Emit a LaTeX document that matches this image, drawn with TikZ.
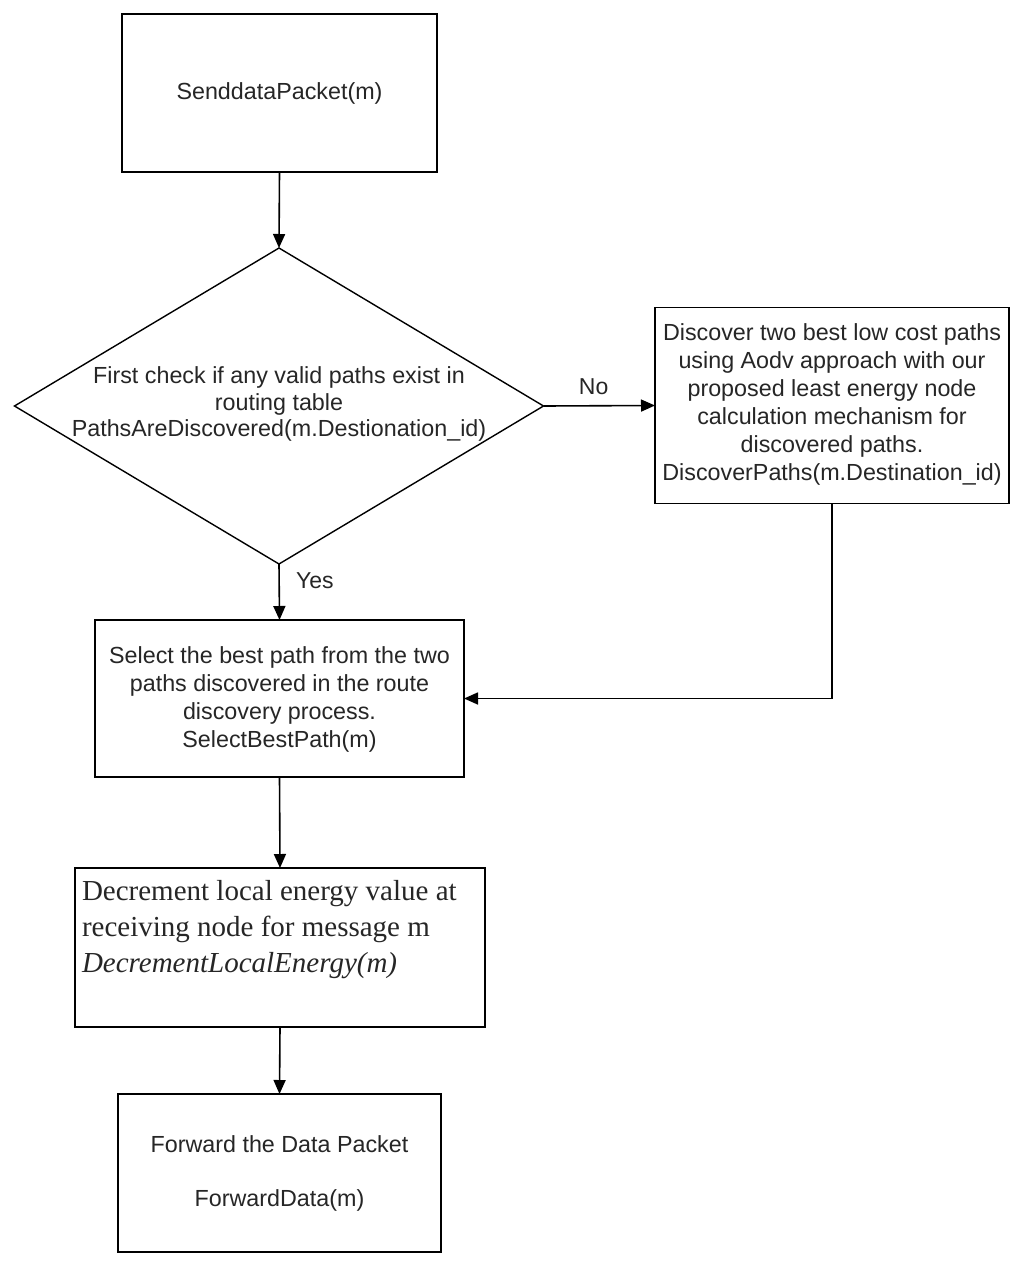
\documentclass[tikz,border=0pt]{standalone}
\usepackage{fontspec}
\setmainfont{Liberation Sans}
\newfontfamily\serifrm{Liberation Serif}
\usetikzlibrary{shapes.geometric,arrows.meta}
\begin{document}
\begin{tikzpicture}[x=1pt,y=-1pt,
  every node/.style={inner sep=0pt,outer sep=0pt},
  box/.style={draw,line width=1.6pt,fill=white},
  txt/.style={font=\fontsize{23.3}{28}\selectfont,align=center,text=black!85},
  dtxt/.style={font=\fontsize{23.3}{26.5}\selectfont,align=center,text=black!85},
  arr/.style={line width=1.6pt,-{Triangle[length=14pt,width=12pt]}},
  lbl/.style={font=\fontsize{23}{26}\selectfont,text=black!85}]
\useasboundingbox (0,0) rectangle (1024,1266);

\node[box,minimum width=315pt,minimum height=158pt] (send) at (279.5,93) {};
\node[txt] (sendt) at (279.5,93) {SenddataPacket(m)};

\node[draw,diamond,line width=1.4pt,minimum width=529pt,minimum height=316pt] (dec) at (279,406) {};
\node[dtxt] (dect) at (279,404) {First check if any valid paths exist in\\routing table\\PathsAreDiscovered(m.Destionation\_id)};

\node[box,minimum width=354pt,minimum height=196pt] (disc) at (832,405.5) {};
\node[txt] (disct) at (832,404) {Discover two best low cost paths\\using Aodv approach with our\\proposed least energy node\\calculation mechanism for\\discovered paths.\\DiscoverPaths(m.Destination\_id)};

\node[box,minimum width=369pt,minimum height=157pt] (sel) at (279.5,698.5) {};
\node[txt] (selt) at (279.5,699) {Select the best path from the two\\paths discovered in the route\\discovery process.\\SelectBestPath(m)};

\node[box,minimum width=410pt,minimum height=159pt] (decr) at (280,947.5) {};
\node[font=\serifrm\fontsize{29}{36}\selectfont,align=left,anchor=north west,text=black!85] (decrt) at (82,880) {Decrement local energy value at\\receiving node for message m\\\itshape DecrementLocalEnergy(m)};

\node[box,minimum width=323pt,minimum height=158pt] (fwd) at (279.5,1173) {};
\node[txt] (fwdt1) at (279.5,1144) {Forward the Data Packet};
\node[txt] (fwdt2) at (279.5,1200) {ForwardData(m)};

\draw[arr] (send.south) -- (dec.north);
\draw[arr] (dec.east) -- node[lbl,above=11pt,pos=0.45] (no) {No} (disc.west);
\draw[arr] (dec.south) -- node[lbl,right=17pt,pos=0.3] (yes) {Yes} (sel.north);
\draw[arr] (disc.south) |- (sel.east);
\draw[arr] (sel.south) -- (decr.north);
\draw[arr] (decr.south) -- (fwd.north);
\end{tikzpicture}
\end{document}
